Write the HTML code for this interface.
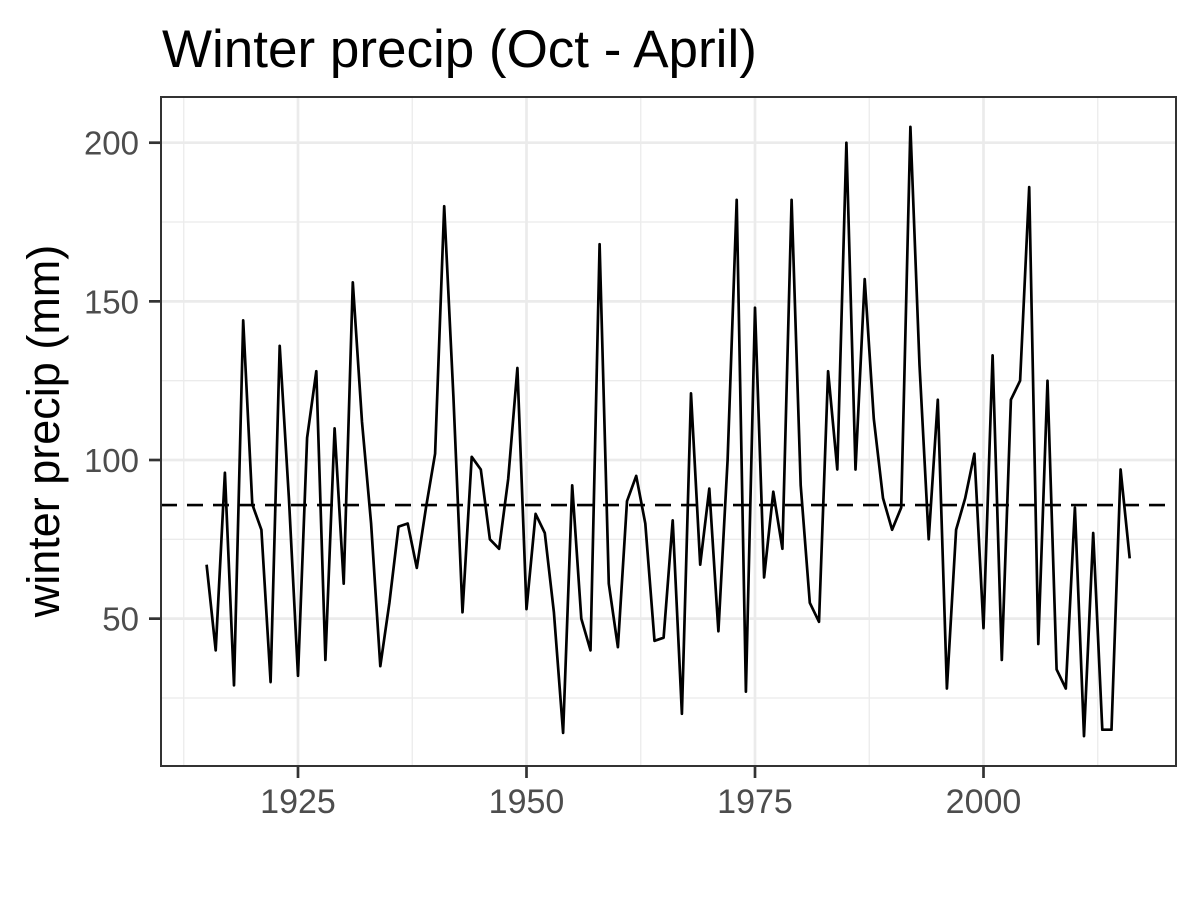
<!DOCTYPE html>
<html><head><meta charset="utf-8"><style>
body{margin:0;background:#fff;}
svg text{font-family:"Liberation Sans",Arial,sans-serif;}
</style></head><body>
<svg id="chart" width="1200" height="900">
<rect width="1200" height="900" fill="#fff"/>
<text x="162" y="67" font-size="53" fill="#000">Winter precip (Oct - April)</text>
<g id="grid"></g>
<g id="series"></g>
<rect x="161" y="97" width="1015" height="669" fill="none" stroke="#333" stroke-width="2"/>
<g id="axes"></g>
<text transform="translate(59,431) rotate(-90)" text-anchor="middle" font-size="45" fill="#000">winter precip (mm)</text>
</svg>
<script>
const startYear = 1915;
const precip = [67,40,96,29,144,86,78,30,136,88,32,107,128,37,110,61,156,112,80,35,55,79,80,66,85,102,180,120,52,101,97,75,72,94,129,53,83,77,52,14,92,50,40,168,61,41,87,95,80,43,44,81,20,121,67,91,46,100,182,27,148,63,90,72,182,92,55,49,128,97,200,97,157,113,88,78,85,205,130,75,119,28,78,88,102,47,133,37,119,125,186,42,125,34,28,85,13,77,15,15,97,69];
const meanLine = 85.8;
const xTicks = [1925,1950,1975,2000];
const yTicks = [50,100,150,200];
const xMinor = [1912.5,1937.5,1962.5,1987.5,2012.5];
const yMinor = [25,75,125,175];

const X = y => 298 + (y - 1925) * 9.14;
const Y = v => 460 - (v - 100) * 3.173;
const ns = "http://www.w3.org/2000/svg";
function mk(tag, attrs, parent){const e=document.createElementNS(ns,tag);for(const k in attrs)e.setAttribute(k,attrs[k]);parent.appendChild(e);return e;}
const grid=document.getElementById('grid'), axes=document.getElementById('axes'), series=document.getElementById('series');

yMinor.forEach(v=>{const l=mk('line',{x1:161,x2:1176,y1:Y(v),y2:Y(v),stroke:'#ebebeb','stroke-width':1.3},grid);

});
xMinor.forEach(v=>{const l=mk('line',{x1:X(v),x2:X(v),y1:97,y2:766,stroke:'#ebebeb','stroke-width':1.3},grid);

});
yTicks.forEach(v=>{const l=mk('line',{x1:161,x2:1176,y1:Y(v),y2:Y(v),stroke:'#ebebeb','stroke-width':2.7},grid);


const t=mk('line',{x1:149,x2:161,y1:Y(v),y2:Y(v),stroke:'#333','stroke-width':2.7},axes);


const tx=mk('text',{x:139,y:Y(v)+12,'text-anchor':'end','font-size':33,fill:'#4d4d4d'},axes);tx.textContent=v;

});
xTicks.forEach(v=>{const l=mk('line',{x1:X(v),x2:X(v),y1:97,y2:766,stroke:'#ebebeb','stroke-width':2.7},grid);


const t=mk('line',{x1:X(v),x2:X(v),y1:766,y2:778,stroke:'#333','stroke-width':2.7},axes);


const tx=mk('text',{x:X(v),y:813,'text-anchor':'middle','font-size':34,fill:'#4d4d4d'},axes);tx.textContent=v;

});

const pts=precip.map((v,i)=>X(startYear+i).toFixed(1)+','+Y(v).toFixed(1)).join(' ');
const pl=mk('polyline',{points:pts,fill:'none',stroke:'#000','stroke-width':2.7,'stroke-linejoin':'round'},series);


const ml=mk('line',{x1:161,x2:1176,y1:Y(meanLine),y2:Y(meanLine),stroke:'#000','stroke-width':2.7,'stroke-dasharray':'16,10'},series);


</script>
</body></html>
